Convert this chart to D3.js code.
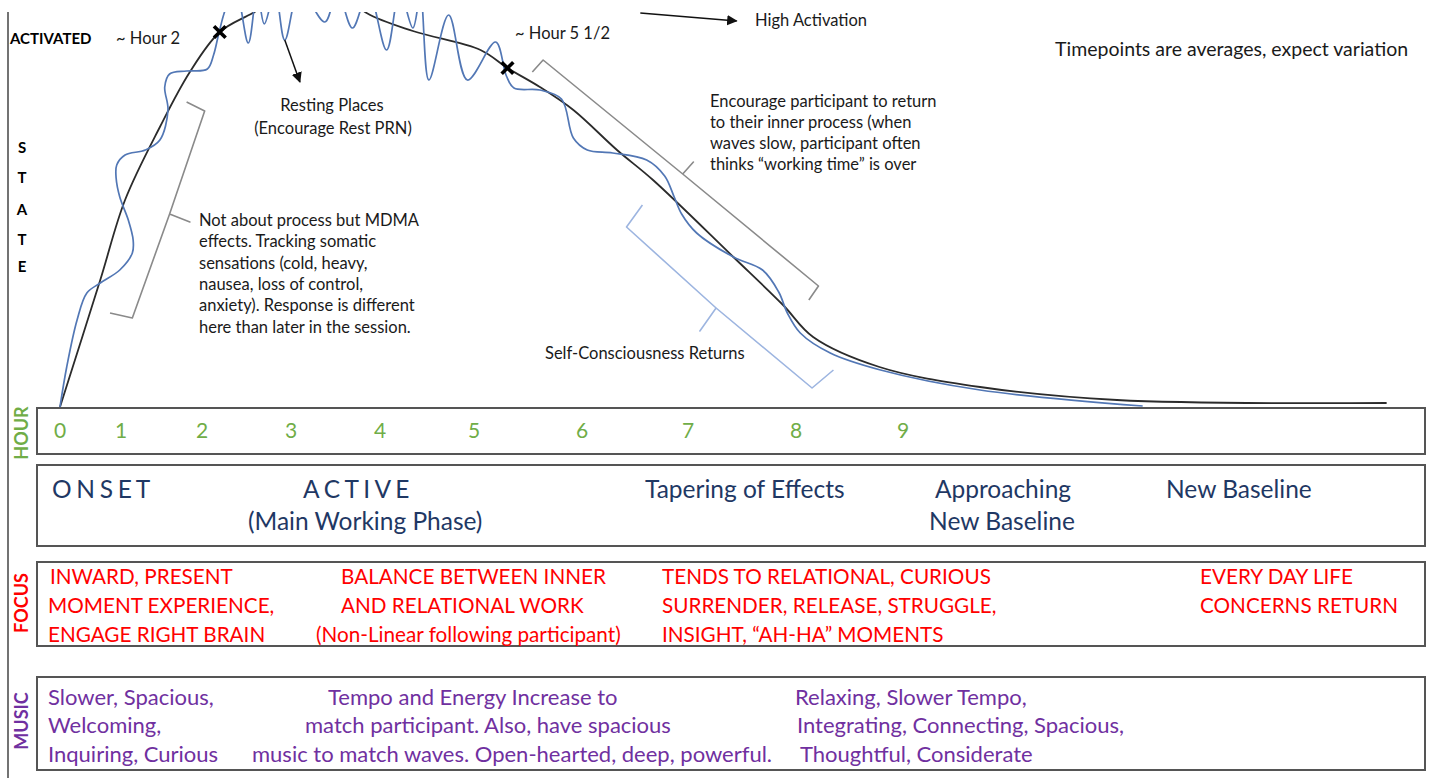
<!DOCTYPE html>
<html>
<head>
<meta charset="utf-8">
<script src="https://cdn.jsdelivr.net/npm/d3@7"></script>
<style>
body { margin: 0; background: #fff; }
svg { display: block; font-family: Lato, "Open Sans", sans-serif; }
</style>
</head>
<body>
<svg width="1443" height="778"></svg>
<script>
// ---- data (hours / relative state 0-100) ----
var hourTicks = [0, 1, 2, 3, 4, 5, 6, 7, 8, 9];

// smooth "average" curve
var trendHour  = [0, 0.66, 1.05, 1.48, 1.85, 2.2, 2.57, 3.1, 3.49, 3.85, 4.35, 5.06, 5.31, 5.61, 5.92, 6.33, 6.67, 7.42, 7.88, 8.16, 8.78, 9.72, 11.0, 13.52];
var trendState = [0, 31.75, 51.75, 70, 83.75, 93.75, 98.5, 105, 105, 98.5, 94, 89.25, 84.75, 80, 74.25, 64.25, 56.75, 37.5, 25.5, 17.5, 10, 5, 1.75, 1];

// wavy "experience" curve
var waveHour  = [0, 0.11, 0.28, 0.44, 0.66, 0.98, 1.14, 1.15, 1.09, 0.98, 0.92, 0.93, 1.05, 1.30, 1.48, 1.58, 1.54, 1.60, 1.81, 2.06, 2.13, 2.19, 2.27, 2.38, 2.52, 2.62, 2.70, 2.82, 2.93, 3.10, 3.38, 3.52, 3.69, 3.87, 4.07, 4.21, 4.35, 4.43, 4.52, 4.73, 4.93, 5.20, 5.30, 5.37, 5.61, 5.81, 5.92, 6.05, 6.29, 6.61, 6.78, 6.87, 6.94, 7.08, 7.42, 7.69, 7.84, 7.92, 8.04, 8.32, 8.79, 9.72, 11.24];
var waveState = [0, 10, 21.75, 28.5, 31, 34.25, 38.5, 41.75, 46.75, 52.5, 57.25, 60.5, 63, 64.25, 66.75, 74.25, 80, 83.25, 84, 84.5, 88, 93.5, 99.75, 103.75, 91, 103.75, 95.75, 103.75, 91.75, 104.25, 96.25, 103.75, 94.75, 103.75, 89.25, 103.75, 94.75, 103, 81.75, 98, 81.75, 91.25, 82.75, 79.75, 79.25, 77, 67.25, 64.25, 63.5, 61.75, 57.75, 52.5, 48.25, 43.5, 37.5, 34.25, 28.75, 23.5, 18.5, 13.5, 9.25, 4.25, 0.25];

var markerHour  = [2.2, 5.31];
var markerState = [93.75, 84.75];
var markerLabels = ["~ Hour 2", "~ Hour 5 1/2"];

// annotation brackets / arrows, in [hour, state]
var onsetBracket     = [[1.81, 76.25], [2.03, 74], [1.60, 48.25], [1.85, 46.25], [1.60, 48.25], [1.14, 22.25], [0.82, 23.5]];
var encourageBracket = [[5.54, 83.75], [5.64, 86.75], [6.95, 58.25], [7.05, 61.25], [6.95, 58.25], [8.21, 30.25], [8.12, 26.75]];
var selfBracket      = [[6.57, 50.5], [6.42, 45], [7.26, 24.75], [7.11, 19], [7.26, 24.75], [8.15, 4.75], [8.35, 9.25]];
var restArrow = [[2.93, 91.75], [3.10, 81.25]];
var highArrow = [[6.55, 98.5], [7.45, 96.5]];

var stateLetters = ["S", "T", "A", "T", "E"];
var mdmaNote = ["Not about process but MDMA", "effects. Tracking somatic", "sensations (cold, heavy,", "nausea, loss of control,", "anxiety). Response is different", "here than later in the session."];
var encourageNote = ["Encourage participant to return", "to their inner process (when", "waves slow, participant often", "thinks \u201cworking time\u201d is over"];

var focusCols = [
    ["INWARD, PRESENT", "MOMENT EXPERIENCE,", "ENGAGE RIGHT BRAIN"],
    ["BALANCE BETWEEN INNER", "AND RELATIONAL WORK", "(Non-Linear following participant)"],
    ["TENDS TO RELATIONAL, CURIOUS", "SURRENDER, RELEASE, STRUGGLE,", "INSIGHT, \u201cAH-HA\u201d MOMENTS"],
    ["EVERY DAY LIFE", "CONCERNS RETURN"]
];
var musicCols = [
    ["Slower, Spacious,", "Welcoming,", "Inquiring, Curious"],
    ["Tempo and Energy Increase to", "match participant. Also, have spacious", "music to match waves. Open-hearted, deep, powerful."],
    ["Relaxing, Slower Tempo,", "Integrating, Connecting, Spacious,", "Thoughtful, Considerate"]
];

var svg = d3.select("svg");

var navy = "#1f3864", green = "#70ad47", red = "#ff0000", purple = "#7030a0";

// hours are not evenly spaced in the original drawing
var x = d3.scaleLinear().domain(hourTicks).range([60, 121, 202, 291, 380, 474, 582, 688, 796, 903]);
var y = d3.scaleLinear().domain([0, 100]).range([407, 7]);

var defs = svg.append("defs");
defs.append("clipPath").attr("id", "clip")
    .append("rect").attr("x", 0).attr("y", 12).attr("width", 1443).attr("height", 766);
defs.append("marker")
    .attr("id", "arrow")
    .attr("viewBox", "0 0 10 10")
    .attr("refX", 9).attr("refY", 5)
    .attr("markerWidth", 7).attr("markerHeight", 7)
    .attr("orient", "auto")
    .append("path").attr("d", "M0,0L10,5L0,10z").attr("fill", "#111");

// left border line
svg.append("line")
    .attr("x1", 8).attr("x2", 8).attr("y1", 12).attr("y2", 778)
    .attr("stroke", "#444").attr("stroke-width", 1.5);

var plot = svg.append("g").attr("clip-path", "url(#clip)");

var line = d3.line()
    .x(function(d) { return x(d[0]); })
    .y(function(d) { return y(d[1]); })
    .curve(d3.curveCatmullRom.alpha(0.5));

var straight = d3.line()
    .x(function(d) { return x(d[0]); })
    .y(function(d) { return y(d[1]); });

// brackets
[[onsetBracket, "#8a8a8a"], [encourageBracket, "#8a8a8a"], [selfBracket, "#9db5e0"]].forEach(function(b) {
    plot.append("path")
        .attr("d", straight(b[0]))
        .attr("fill", "none")
        .attr("stroke", b[1])
        .attr("stroke-width", 1.6)
        .attr("stroke-linejoin", "round");
});

plot.append("path")
    .attr("d", line(trendHour.map(function(h, i) { return [h, trendState[i]]; })))
    .attr("fill", "none")
    .attr("stroke", "#2b2b2b")
    .attr("stroke-width", 1.8);

plot.append("path")
    .attr("d", line(waveHour.map(function(h, i) { return [h, waveState[i]]; })))
    .attr("fill", "none")
    .attr("stroke", "#5277b5")
    .attr("stroke-width", 1.7);

// arrows
[restArrow, highArrow].forEach(function(a) {
    plot.append("path")
        .attr("d", straight(a))
        .attr("stroke", "#111")
        .attr("stroke-width", 1.5)
        .attr("marker-end", "url(#arrow)");
});

// hour markers
plot.selectAll(".mk")
    .data(markerHour)
    .enter().append("path")
    .attr("class", "mk")
    .attr("transform", function(d, i) { return "translate(" + x(d) + "," + y(markerState[i]) + ")"; })
    .attr("d", d3.symbol(d3.symbolTimes, 90))
    .attr("stroke", "#000")
    .attr("stroke-width", 3.6);

// ---- text helpers ----
function addText(txt, tx, ty, opt) {
    opt = opt || {};
    return svg.append("text")
        .attr("x", tx).attr("y", ty)
        .attr("dy", "0.35em")
        .attr("font-size", opt.size || 16.5)
        .attr("font-weight", opt.weight || "normal")
        .attr("fill", opt.color || "#1a1a1a")
        .attr("text-anchor", opt.anchor || "start")
        .attr("letter-spacing", opt.spacing || 0)
        .text(txt);
}

addText("ACTIVATED", 10, 39, { size: 15, weight: "bold", color: "#000" });
stateLetters.forEach(function(l, i) {
    addText(l, 22, [148, 178, 210, 240, 267][i], { size: 15, weight: "bold", anchor: "middle", color: "#000" });
});

addText(markerLabels[0], 116, 38);
addText(markerLabels[1], 515, 33);
addText("Resting Places", 332, 105, { anchor: "middle" });
addText("(Encourage Rest PRN)", 333, 128, { anchor: "middle" });
addText("High Activation", 755, 20);
addText("Timepoints are averages, expect variation", 1055, 49, { size: 19.5 });
encourageNote.forEach(function(t, i) { addText(t, 710, 101 + i * 21, {}); });
mdmaNote.forEach(function(t, i) { addText(t, 199, 220 + i * 21.4, {}); });
addText("Self-Consciousness Returns", 545, 353);

// ---- row boxes ----
var boxes = [[408, 454], [465, 546], [562, 646], [677, 770]];
svg.selectAll(".box")
    .data(boxes)
    .enter().append("rect")
    .attr("class", "box")
    .attr("x", 37)
    .attr("y", function(d) { return d[0]; })
    .attr("width", 1425 - 37)
    .attr("height", function(d) { return d[1] - d[0]; })
    .attr("fill", "none")
    .attr("stroke", "#555")
    .attr("stroke-width", 2);

// side labels
function sideLabel(txt, cy, color) {
    svg.append("text")
        .attr("transform", "translate(22," + cy + ") rotate(-90)")
        .attr("dy", "0.35em")
        .attr("text-anchor", "middle")
        .attr("font-size", 18)
        .attr("font-weight", "bold")
        .attr("fill", color)
        .text(txt);
}
sideLabel("HOUR", 433, green);
sideLabel("FOCUS", 603, red);
sideLabel("MUSIC", 721, purple);

// hour ticks
svg.selectAll(".hr")
    .data(hourTicks)
    .enter().append("text")
    .attr("class", "hr")
    .attr("x", function(d) { return x(d); })
    .attr("y", 431)
    .attr("dy", "0.35em")
    .attr("text-anchor", "middle")
    .attr("font-size", 21)
    .attr("fill", green)
    .text(function(d) { return d; });

// phases
var ps = 24.5;
addText("O N S E T", 52, 489, { size: ps, color: navy, spacing: -0.8 });
addText("A C T I V E", 303, 489, { size: ps, color: navy, spacing: -0.6 });
addText("(Main Working Phase)", 248, 521, { size: ps, color: navy });
addText("Tapering of Effects", 645, 489, { size: ps, color: navy });
addText("Approaching", 1003, 489, { size: ps, color: navy, anchor: "middle" });
addText("New Baseline", 1002, 521, { size: ps, color: navy, anchor: "middle" });
addText("New Baseline", 1166, 489, { size: ps, color: navy });

// focus
var focusX = [[50, 48, 48], [341, 341, 316], [662, 662, 662], [1200, 1200]];
focusCols.forEach(function(col, c) {
    col.forEach(function(t, i) {
        addText(t, focusX[c][i], 577 + i * 29, { size: 20.7, color: red });
    });
});

// music
var musicX = [[48, 48, 48], [328, 305, 252], [795, 797, 800]];
musicCols.forEach(function(col, c) {
    col.forEach(function(t, i) {
        addText(t, musicX[c][i], 697 + i * 28.5, { size: 22, color: purple });
    });
});
</script>
</body>
</html>
